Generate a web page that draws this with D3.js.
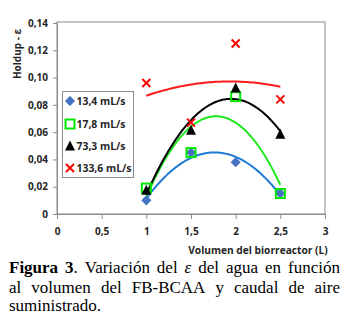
<!DOCTYPE html>
<html><head><meta charset="utf-8">
<script src="https://cdn.jsdelivr.net/npm/d3@7"></script>
<style>html,body{margin:0;padding:0;background:#fff;}svg{display:block;}</style>
</head><body>
<svg id="c" width="349" height="324"></svg>
<script>
const volumes = [1, 1.5, 2, 2.5];
const seriesNames = ["13,4 mL/s", "17,8 mL/s", "73,3 mL/s", "133,6 mL/s"];
const s134 = [0.010, 0.045, 0.038, 0.015];
const s178 = [0.019, 0.045, 0.086, 0.015];
const s733 = [0.017, 0.061, 0.092, 0.058];
const s1336 = [0.096, 0.067, 0.125, 0.084];
const xTicks = [0, 0.5, 1, 1.5, 2, 2.5, 3];
const yTicks = [0, 0.02, 0.04, 0.06, 0.08, 0.10, 0.12, 0.14];
const xTitle = "Volumen del biorreactor (L)";
const yTitle = "Holdup - ε";
const captionBold = "Figura 3";
const captionLines = [
  [". Variación del ", "ε", " del agua en función"],
  ["al volumen del FB-BCAA y caudal de aire"],
  ["suministrado."]
];

const svg = d3.select("#c");
const x = d3.scaleLinear().domain([0, 3]).range([57, 325]);
const y = d3.scaleLinear().domain([0, 0.14]).range([214, 23]);
const fmt = v => (v === 0 ? "0" : d3.format(".2f")(v)).replace(".", ",");
const fmtX = v => String(v).replace(".", ",");
const sans = "'Open Sans', 'Liberation Sans', sans-serif";

// frame
svg.append("rect").attr("x", x(0)).attr("y", y(0.14) - 1)
  .attr("width", x(3) - x(0)).attr("height", y(0) - y(0.14) + 1)
  .attr("fill", "none").attr("stroke", "#8c8c8c").attr("stroke-width", 1);

// axes
const xAxis = d3.axisBottom(x).tickValues(xTicks).tickFormat(fmtX).tickSize(5).tickPadding(9);
const gx = svg.append("g").attr("transform", `translate(0,${y(0)})`).call(xAxis);
const yAxis = d3.axisLeft(y).tickValues(yTicks).tickFormat(fmt).tickSize(4).tickPadding(5);
const gy = svg.append("g").attr("transform", `translate(${x(0)},0)`).call(yAxis);
[gx, gy].forEach(g => {
  g.select(".domain").attr("stroke", "#8c8c8c");
  g.selectAll(".tick line").attr("stroke", "#8c8c8c");
  g.selectAll(".tick text").attr("fill", "#262626").attr("font-family", sans)
    .attr("font-weight", "bold").attr("font-size", 10);
});

// titles
svg.append("text").attr("x", 258).attr("y", 254).attr("text-anchor", "middle")
  .attr("font-family", sans).attr("font-weight", "bold").attr("font-size", 10.2)
  .attr("fill", "#262626").text(xTitle);
svg.append("text").attr("transform", "translate(21,54) rotate(-90)").attr("text-anchor", "middle")
  .attr("font-family", sans).attr("font-weight", "bold").attr("font-size", 10)
  .attr("fill", "#262626").text(yTitle);

// quadratic least squares fit (Excel polynomial trendline, order 2)
function quadFit(xs, ys) {
  let S = [0,0,0,0,0], T = [0,0,0];
  xs.forEach((xi, i) => {
    for (let k = 0; k < 5; k++) S[k] += Math.pow(xi, k);
    for (let k = 0; k < 3; k++) T[k] += Math.pow(xi, k) * ys[i];
  });
  const M = [[S[0],S[1],S[2],T[0]],[S[1],S[2],S[3],T[1]],[S[2],S[3],S[4],T[2]]];
  for (let i = 0; i < 3; i++) {
    for (let j = i + 1; j < 3; j++) {
      const f = M[j][i] / M[i][i];
      for (let k = i; k < 4; k++) M[j][k] -= f * M[i][k];
    }
  }
  const c = [0,0,0];
  for (let i = 2; i >= 0; i--) {
    let s = M[i][3];
    for (let k = i + 1; k < 3; k++) s -= M[i][k] * c[k];
    c[i] = s / M[i][i];
  }
  return xv => c[0] + c[1] * xv + c[2] * xv * xv;
}

const series = [
  {name: seriesNames[0], vals: s134, color: "#4472c4", line: "#1f7ad6", shape: "diamond"},
  {name: seriesNames[1], vals: s178, color: "#00e600", line: "#1ee81e", shape: "square"},
  {name: seriesNames[2], vals: s733, color: "#000000", line: "#000000", shape: "triangle"},
  {name: seriesNames[3], vals: s1336, color: "#ff0000", line: "#ff1a1a", shape: "x"}
];

const line = d3.line().x(d => x(d[0])).y(d => y(d[1])).curve(d3.curveLinear);
const xsDense = d3.range(0, 61).map(i => volumes[0] + i * (volumes[3] - volumes[0]) / 60);

function drawMarker(g, shape, color) {
  if (shape === "diamond") {
    g.append("path").attr("d", d3.symbol(d3.symbolDiamond2, 58)()).attr("fill", color)
      .attr("stroke", "#3a64ae").attr("stroke-width", 0.5);
  } else if (shape === "square") {
    g.append("rect").attr("x", -4.5).attr("y", -4.5).attr("width", 9).attr("height", 9)
      .attr("fill", "none").attr("stroke", color).attr("stroke-width", 2);
  } else if (shape === "triangle") {
    g.append("path").attr("d", "M0,-6 L5,4 L-5,4 Z").attr("fill", color);
  } else {
    g.append("path").attr("d", "M-4,-4 L4,4 M-4,4 L4,-4").attr("stroke", color)
      .attr("stroke-width", 2).attr("fill", "none");
  }
}

// trendlines
series.forEach(s => {
  const f = quadFit(volumes, s.vals);
  svg.append("path").datum(xsDense.map(v => [v, f(v)])).attr("d", line)
    .attr("fill", "none").attr("stroke", s.line).attr("stroke-width", 2);
});
// markers
series.forEach(s => {
  s.vals.forEach((v, i) => {
    const g = svg.append("g").attr("transform", `translate(${x(volumes[i])},${y(v)})`);
    drawMarker(g, s.shape, s.color);
  });
});

// legend
svg.append("rect").attr("x", 62.5).attr("y", 91.5).attr("width", 71).attr("height", 86)
  .attr("fill", "#fff").attr("stroke", "#8c8c8c");
const legY = [101, 124, 146.5, 168];
series.forEach((s, i) => {
  const g = svg.append("g").attr("transform", `translate(70,${legY[i]})`);
  drawMarker(g, s.shape, s.color);
  svg.append("text").attr("x", 76.5).attr("y", legY[i]).attr("dy", "0.35em")
    .attr("font-family", sans).attr("font-weight", "bold").attr("font-size", 10.4)
    .attr("fill", "#262626").text(s.name);
});

// caption (justified)
const serif = "'Liberation Serif', 'Times New Roman', serif";
const capX0 = 9, capX1 = 340, capY = [273, 293, 311], capFs = 17;
function justifyLine(tokens, yPos, justify) {
  const words = [];
  let cur = [];
  tokens.forEach(tok => {
    const parts = tok.t.split(/( )/);
    parts.forEach(p => {
      if (p === " ") { if (cur.length) { words.push(cur); cur = []; } }
      else if (p !== "") cur.push({t: p, bold: tok.bold, italic: tok.italic});
    });
  });
  if (cur.length) words.push(cur);
  const gs = words.map(w => {
    const t = svg.append("text").attr("y", yPos).attr("font-family", serif)
      .attr("font-size", capFs).attr("fill", "#000");
    w.forEach(p => t.append("tspan").attr("font-weight", p.bold ? "bold" : "normal")
      .attr("font-style", p.italic ? "italic" : "normal").text(p.t));
    return t;
  });
  const widths = gs.map(t => t.node().getComputedTextLength());
  const total = d3.sum(widths);
  const gap = justify ? (capX1 - capX0 - total) / (gs.length - 1) : capFs * 0.25;
  let cx = capX0;
  gs.forEach((t, i) => { t.attr("x", cx); cx += widths[i] + gap; });
}
justifyLine([{t: captionBold, bold: true}, {t: captionLines[0][0]}, {t: captionLines[0][1], italic: true}, {t: captionLines[0][2]}], capY[0], true);
justifyLine([{t: captionLines[1][0]}], capY[1], true);
justifyLine([{t: captionLines[2][0]}], capY[2], false);
</script>
</body></html>
